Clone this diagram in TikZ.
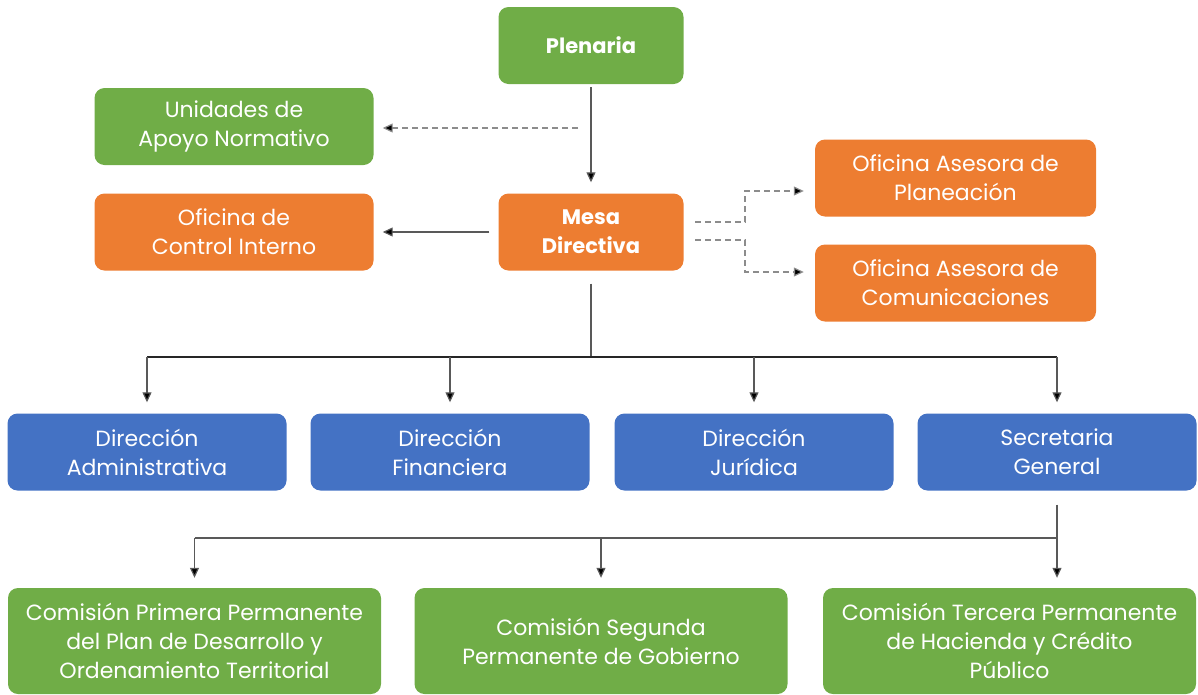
\documentclass[tikz,border=0pt]{standalone}
\usepackage{fontspec}
\setmainfont{Poppins}
\usetikzlibrary{arrows.meta}
\definecolor{verde}{HTML}{70AD47}
\definecolor{naranja}{HTML}{ED7D31}
\definecolor{azul}{HTML}{4472C4}
\begin{document}
\begin{tikzpicture}[x=1pt,y=-1pt,
    caja/.style={rounded corners=10pt, text=white, align=center, inner sep=0pt, font=\fontsize{22}{29}\selectfont},
    chica/.style={caja, minimum width=185pt, minimum height=77pt, font=\fontsize{21}{29}\selectfont\bfseries},
    media/.style={caja, minimum width=279pt, minimum height=77pt},
    grande/.style={caja, minimum width=373pt, minimum height=106pt},
    linea/.style={line width=1.2pt, color=black!65},
    flecha/.style={linea, -{Triangle[length=10pt,width=9pt,fill=black]}},
    punteada/.style={flecha, color=black!45, dash pattern=on 6pt off 4pt}]
    \useasboundingbox (0,0) rectangle (1198,694);
    \node[chica, fill=verde] (plen) at (591,45.5) {Plenaria};
    \node[media, fill=verde] (apoyo) at (234,126.5) {Unidades de\\Apoyo Normativo};
    \node[media, fill=naranja] (control) at (234,232) {Oficina de\\Control Interno};
    \node[chica, fill=naranja] (mesa) at (591,232) {Mesa\\Directiva};
    \node[media, fill=naranja, minimum width=281pt] (planea) at (955.5,178) {Oficina Asesora de\\Planeación};
    \node[media, fill=naranja, minimum width=281pt] (comun) at (955.5,283) {Oficina Asesora de\\Comunicaciones};
    \node[media, fill=azul] (dadm) at (147,452) {Dirección\\Administrativa};
    \node[media, fill=azul] (dfin) at (450,452) {Dirección\\Financiera};
    \node[media, fill=azul] (djur) at (754,452) {Dirección\\Jurídica};
    \node[media, fill=azul] (sgen) at (1057,452) {Secretaria\\General};
    \node[grande, fill=verde] (com1) at (194.5,641) {Comisión Primera Permanente\\del Plan de Desarrollo y\\Ordenamiento Territorial};
    \node[grande, fill=verde] (com2) at (601,641) {Comisión Segunda\\Permanente de Gobierno};
    \node[grande, fill=verde] (com3) at (1009.5,641) {Comisión Tercera Permanente\\de Hacienda y Crédito\\Público};
    \coordinate (dj) at (578,128);
    \coordinate (m1) at (695,222);
    \coordinate (m2) at (695,240);
    \coordinate (busA) at (591,357);
    \coordinate (busB) at (1056,538);
    \draw[flecha, shorten <=3pt, shorten >=11pt] (plen) -- (mesa);
    \draw[punteada, shorten >=9pt] (dj) -- (apoyo.east |- dj);
    \draw[flecha, shorten <=9pt, shorten >=9pt] (mesa) -- (control);
    \draw[punteada, shorten >=11pt] (m1) -- ++(50,0) |- ([yshift=-13pt]planea.west);
    \draw[punteada, shorten >=11pt] (m2) -- ++(50,0) |- ([yshift=11pt]comun.west);
    \draw[linea, shorten <=13pt] (mesa) -- (busA);
    \draw[linea, color=black!85] (dadm |- busA) -- (sgen |- busA);
    \foreach \n in {dadm,dfin,djur,sgen}
        \draw[flecha, shorten >=11pt] (\n |- busA) -- (\n.north);
    \draw[linea, shorten <=14pt] (sgen) -- (sgen |- busB);
    \draw[linea] (com1 |- busB) -- (sgen |- busB);
    \foreach \n in {com1,com2}
        \draw[flecha, shorten >=10pt] (\n |- busB) -- (\n.north);
    \draw[flecha, shorten >=10pt] (sgen |- busB) -- (sgen |- com3.north);
\end{tikzpicture}
\end{document}
